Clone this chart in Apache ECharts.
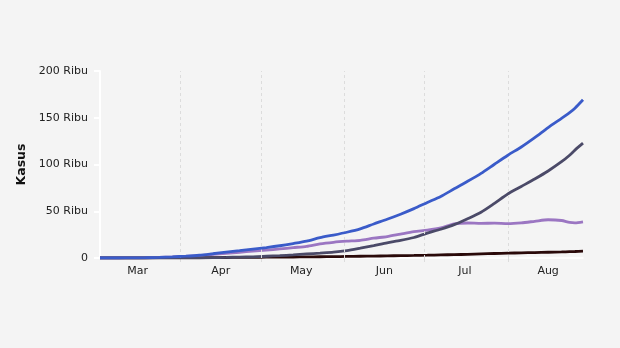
<!DOCTYPE html>
<html>
<head>
<meta charset="utf-8">
<script src="https://cdn.jsdelivr.net/npm/echarts@6/dist/echarts.min.js"></script>
<style>
  html, body { margin: 0; padding: 0; background: #f4f4f4; }
  #chart { width: 620px; height: 348px; }
</style>
</head>
<body>
<div id="chart"></div>
<script>
// Kumulatif kasus COVID-19 Indonesia, Maret–Agustus 2020
const dates = [
  '2020-03-02','2020-03-09','2020-03-14','2020-03-19','2020-03-24','2020-03-29',
  '2020-04-03','2020-04-08','2020-04-13','2020-04-18','2020-04-23','2020-04-28',
  '2020-05-03','2020-05-08','2020-05-13','2020-05-18','2020-05-23','2020-05-28',
  '2020-06-02','2020-06-07','2020-06-12','2020-06-17','2020-06-22','2020-06-27',
  '2020-07-02','2020-07-07','2020-07-12','2020-07-17','2020-07-22','2020-07-27',
  '2020-08-01','2020-08-06','2020-08-11','2020-08-16','2020-08-21','2020-08-24',
  '2020-08-26','2020-08-29'
];
const positif = [
  2, 19, 96, 309, 686, 1285,
  1986, 2956, 4557, 6248, 7775, 9511,
  11192, 13112, 15438, 18010, 21745, 24538,
  27549, 31186, 36406, 41431, 46845, 52812,
  59394, 65800, 74000, 82000, 90500, 100303,
  109936, 118753, 128776, 139549, 149408, 155412,
  160165, 169195
];
const sembuh = [
  0, 0, 8, 15, 30, 64,
  134, 222, 380, 631, 960, 1254,
  1876, 2494, 3287, 4324, 5249, 6240,
  7935, 10498, 13213, 16243, 18735, 21909,
  26667, 30785, 35638, 42000, 49000, 58500,
  68500, 76500, 84500, 93103, 102991, 109936,
  115409, 122802
];
const dirawat = [
  2, 19, 83, 269, 601, 1107,
  1671, 2494, 3778, 5082, 6168, 7484,
  8471, 9675, 11123, 12495, 15145, 16802,
  17951, 18837, 21145, 22912, 25610, 28183,
  29740, 32132, 36455, 37450, 37037, 37292,
  36824, 37587, 39242, 40900, 40100, 38100,
  37600, 38700
];
const meninggal = [
  0, 0, 5, 25, 55, 114,
  181, 240, 399, 535, 647, 773,
  845, 943, 1028, 1191, 1351, 1496,
  1663, 1851, 2048, 2276, 2500, 2720,
  2987, 3309, 3606, 3873, 4459, 4838,
  5193, 5521, 5824, 6150, 6500, 6759,
  6944, 7261
];
const seriesNames = ['Positif', 'Sembuh', 'Dirawat', 'Meninggal'];
const monthNames = ['Mar', 'Apr', 'May', 'Jun', 'Jul', 'Aug'];
const monthStarts = ['2020-04-01', '2020-05-01', '2020-06-01', '2020-07-01', '2020-08-01'];
const monthMids = ['2020-03-16', '2020-04-16', '2020-05-16', '2020-06-16', '2020-07-16', '2020-08-16'];
const yTicks = [0, 50000, 100000, 150000, 200000];

const t = s => Date.parse(s + 'T00:00:00Z');
const pairs = vals => dates.map((d, i) => [t(d), vals[i]]);

const colors = ['#3a5bc9', '#4b4a68', '#9b76c2', '#2a0a0a'];
const valuesBySeries = [positif, sembuh, dirawat, meninggal];

const chart = echarts.init(document.getElementById('chart'), null, { renderer: 'canvas' });

// month-start guide lines drawn underneath the data
const series = [{
  type: 'line',
  data: [],
  silent: true,
  z: 1,
  markLine: {
    silent: true,
    symbol: 'none',
    label: { show: false },
    lineStyle: { color: '#dcdcdc', type: [3, 3], width: 1 },
    data: monthStarts.map(d => ({ xAxis: t(d) }))
  }
}].concat(seriesNames.map((name, i) => ({
  name: name,
  type: 'line',
  data: pairs(valuesBySeries[i]),
  showSymbol: false,
  smooth: 0.25,
  z: 5 - i,
  lineStyle: { color: colors[i], width: 2.8 },
  itemStyle: { color: colors[i] }
})));

chart.setOption({
  backgroundColor: '#f4f4f4',
  animation: false,
  textStyle: { fontFamily: 'DejaVu Sans' },
  grid: { left: 100, right: 37, top: 71, bottom: 90, containLabel: false },
  xAxis: {
    type: 'value',
    min: t('2020-03-02'),
    max: t('2020-08-29'),
    axisLine: { show: true, lineStyle: { color: '#ffffff', width: 1.5 } },
    axisTick: {
      show: true,
      customValues: monthStarts.map(t),
      length: 4,
      lineStyle: { color: '#dcdcdc', width: 1 }
    },
    axisLabel: {
      customValues: monthMids.map(t),
      formatter: v => monthNames[new Date(v).getUTCMonth() - 2],
      color: '#222222',
      fontSize: 11,
      margin: 8
    },
    splitLine: { show: false }
  },
  yAxis: {
    type: 'value',
    min: 0,
    max: 200000,
    interval: 50000,
    name: 'Kasus',
    nameLocation: 'middle',
    nameGap: 72,
    nameTextStyle: { fontWeight: 'bold', fontSize: 12.5, color: '#111111' },
    axisLine: { show: true, lineStyle: { color: '#ffffff', width: 2 } },
    axisTick: { show: true, length: 6, lineStyle: { color: '#ffffff', width: 2 } },
    axisLabel: {
      color: '#222222',
      fontSize: 11,
      margin: 12,
      formatter: v => (yTicks.indexOf(v) >= 0 && v > 0) ? (v / 1000) + ' Ribu' : '0'
    },
    splitLine: { show: false }
  },
  series: series
});
</script>
</body>
</html>
